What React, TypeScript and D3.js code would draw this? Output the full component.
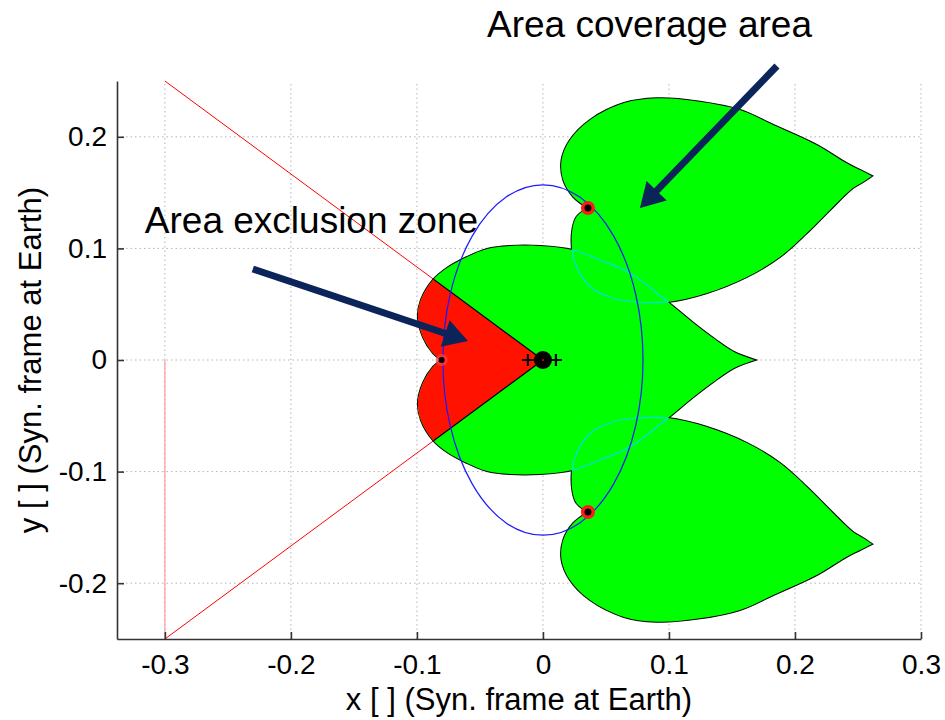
import React, { useEffect, useRef } from "react";
import * as d3 from "d3";

type Pt = [number, number];

// upper half of the central region, from the left notch to the right tip
const heartUpper: Pt[] = [
  [-0.0804, 0], [-0.0871, 0.006], [-0.0952, 0.0206], [-0.0992, 0.0385],
  [-0.0968, 0.0538], [-0.0873, 0.0717], [-0.0762, 0.0824], [-0.0603, 0.0923],
  [-0.0444, 0.0995], [-0.0262, 0.1022], [-0.0024, 0.1022], [0.0238, 0.0986],
  [0.0452, 0.0896], [0.069, 0.078], [0.0992, 0.052], [0.118, 0.0345],
  [0.136, 0.019], [0.152, 0.007], [0.1683, 0],
];

// upper coverage lobe: outer edge from the notch (red marker) to the tip
const leafTop: Pt[] = [
  [0.0357, 0.1362], [0.024, 0.1463], [0.0161, 0.1613], [0.0148, 0.1792],
  [0.0214, 0.1971], [0.0373, 0.2151], [0.0637, 0.23], [0.0902, 0.2345],
  [0.1246, 0.2315], [0.1563, 0.224], [0.1828, 0.2106], [0.2172, 0.1927],
  [0.241, 0.1763], [0.2516, 0.1703], [0.2611, 0.1649],
];
// ... and the inner edge from the tip back to the notch
const leafBottom: Pt[] = [
  [0.2611, 0.1649], [0.254, 0.1595], [0.246, 0.1541], [0.2278, 0.1344],
  [0.2095, 0.1138], [0.1881, 0.0923], [0.1619, 0.0744], [0.1302, 0.06],
  [0.0992, 0.052], [0.0717, 0.0522], [0.0558, 0.0553], [0.0373, 0.0657],
  [0.0267, 0.0836], [0.0233, 0.097], [0.0233, 0.1165], [0.0267, 0.1284],
  [0.0357, 0.1362],
];

const xTicks = [-0.3, -0.2, -0.1, 0, 0.1, 0.2, 0.3];
const yTicks = [-0.2, -0.1, 0, 0.1, 0.2];

const orbit = { cx: 0, cy: 0, rx: 0.0794, ry: 0.157 };
const coneLines: Pt[][] = [
  [[-0.3, 0.25], [0, 0]],
  [[-0.3, -0.25], [0, 0]],
];
const pinkLine: Pt[] = [[-0.3, 0], [-0.3, -0.25]];
const redMarkers: Pt[] = [[0.0357, 0.1362], [0.0357, -0.1362]];
const notchMarker: Pt = [-0.0804, 0];
const plusMarkers: Pt[] = [[-0.0119, 0], [0.0103, 0]];
const earth: Pt = [0, 0];

const labels = ["Area coverage area", "Area exclusion zone"];
const labelPos: Pt[] = [[-0.0444, 0.2894], [-0.3159, 0.1138]];
const arrowFrom: Pt[] = [[0.1857, 0.2634], [-0.2302, 0.0815]];
const arrowTo: Pt[] = [[0.077, 0.1362], [-0.0595, 0.017]];

const FONT = "'Liberation Sans', Arial, Helvetica, sans-serif";

export default function App() {
  const ref = useRef<SVGSVGElement>(null);

  useEffect(() => {
    const W = 945, H = 720;
    const margin = { top: 81, right: 24, bottom: 81, left: 117 };
    const x = d3.scaleLinear().domain([-0.338, 0.3]).range([margin.left, W - margin.right]);
    const y = d3.scaleLinear().domain([-0.25, 0.25]).range([H - margin.bottom, margin.top]);

    const svg = d3.select(ref.current);
    svg.selectAll("*").remove();
    const defs = svg.append("defs");

    const smooth = d3
      .line<Pt>()
      .x((d) => x(d[0]))
      .y((d) => y(d[1]))
      .curve(d3.curveCatmullRom.alpha(0.5));
    const straight = d3
      .line<Pt>()
      .x((d) => x(d[0]))
      .y((d) => y(d[1]));
    // join open smooth edges so the notch and tip stay sharp cusps
    const outline = (edges: Pt[][]) =>
      edges.map((e, i) => {
        const d = smooth(e) as string;
        return i === 0 ? d : "L" + d.slice(1);
      }).join("") + "Z";
    const flip = (pts: Pt[]) => pts.map(([a, b]) => [a, -b] as Pt);

    const heartD = outline([heartUpper, flip(heartUpper).reverse()]);
    const leafDs = [
      outline([leafTop, leafBottom]),
      outline([flip(leafTop), flip(leafBottom)]),
    ];

    defs.append("clipPath").attr("id", "wedge")
      .append("path")
      .attr("d", straight([coneLines[0][0], earth, coneLines[1][0]]) + "Z");
    defs.append("clipPath").attr("id", "heartClip").append("path").attr("d", heartD);
    const lc = defs.append("clipPath").attr("id", "leafClip");
    leafDs.forEach((d) => lc.append("path").attr("d", d));

    // grid
    const grid = svg.append("g")
      .attr("stroke", "#b4b4b4")
      .attr("stroke-dasharray", "1.5,3")
      .attr("stroke-width", 1);
    grid.selectAll(".gx").data(xTicks).join("line")
      .attr("x1", (d) => x(d)).attr("x2", (d) => x(d))
      .attr("y1", y(-0.25)).attr("y2", y(0.25));
    grid.selectAll(".gy").data(yTicks).join("line")
      .attr("class", "gy")
      .attr("x1", x(-0.338)).attr("x2", x(0.3))
      .attr("y1", (d) => y(d)).attr("y2", (d) => y(d));

    // exclusion cone lines
    svg.selectAll(".cone").data(coneLines).join("path")
      .attr("class", "cone")
      .attr("d", (d) => straight(d))
      .attr("stroke", "#ff0000").attr("stroke-width", 1).attr("fill", "none");
    svg.append("path").attr("d", straight(pinkLine))
      .attr("stroke", "#ff9a9a").attr("stroke-width", 1.2).attr("fill", "none");

    // regions: outline pass, then fill pass hides interior boundaries
    const allD = [heartD, ...leafDs];
    svg.selectAll(".outline").data(allD).join("path")
      .attr("class", "outline")
      .attr("d", (d) => d)
      .attr("fill", "#00ff00").attr("stroke", "#000").attr("stroke-width", 2)
      .attr("stroke-linejoin", "miter");
    svg.selectAll(".fillpass").data(allD).join("path")
      .attr("class", "fillpass")
      .attr("d", (d) => d)
      .attr("fill", "#00ff00").attr("stroke", "none");

    // exclusion sector
    svg.append("path").attr("d", heartD)
      .attr("fill", "#ff1200").attr("clip-path", "url(#wedge)");
    svg.selectAll(".edge").data(coneLines).join("path")
      .attr("class", "edge")
      .attr("d", (d) => straight(d))
      .attr("stroke", "#000").attr("stroke-width", 1.2).attr("fill", "none")
      .attr("clip-path", "url(#heartClip)");

    // hidden boundaries in cyan
    svg.append("path").attr("d", heartD)
      .attr("fill", "none").attr("stroke", "#00e0e8").attr("stroke-width", 1.2)
      .attr("clip-path", "url(#leafClip)");
    svg.selectAll(".leafcyan").data(leafDs).join("path")
      .attr("class", "leafcyan")
      .attr("d", (d) => d)
      .attr("fill", "none").attr("stroke", "#00e0e8").attr("stroke-width", 1.2)
      .attr("clip-path", "url(#heartClip)");

    // orbit
    svg.append("ellipse")
      .attr("cx", x(orbit.cx)).attr("cy", y(orbit.cy))
      .attr("rx", x(orbit.rx) - x(0)).attr("ry", y(0) - y(orbit.ry))
      .attr("fill", "none").attr("stroke", "#1a1aff").attr("stroke-width", 1.2);

    // markers
    svg.selectAll(".redm").data(redMarkers).join("circle")
      .attr("class", "redm")
      .attr("cx", (d) => x(d[0])).attr("cy", (d) => y(d[1]))
      .attr("r", 7).attr("fill", "#ff1a1a");
    svg.selectAll(".redc").data(redMarkers).join("circle")
      .attr("class", "redc")
      .attr("cx", (d) => x(d[0])).attr("cy", (d) => y(d[1]))
      .attr("r", 3.5).attr("fill", "#000");
    svg.append("circle").attr("cx", x(notchMarker[0])).attr("cy", y(notchMarker[1]))
      .attr("r", 6).attr("fill", "#ff4040").attr("opacity", 0.7);
    svg.append("circle").attr("cx", x(notchMarker[0])).attr("cy", y(notchMarker[1]))
      .attr("r", 3).attr("fill", "#000");
    svg.selectAll(".plus").data(plusMarkers).join("path")
      .attr("class", "plus")
      .attr("d", (d) => `M${x(d[0]) - 6},${y(d[1])}h12M${x(d[0])},${y(d[1]) - 6}v12`)
      .attr("stroke", "#000").attr("stroke-width", 2.2);
    svg.append("circle").attr("cx", x(earth[0])).attr("cy", y(earth[1]))
      .attr("r", 9).attr("fill", "#000");
    svg.append("circle").attr("cx", x(earth[0])).attr("cy", y(earth[1]))
      .attr("r", 1).attr("fill", "#ff0000");

    // axes
    const xAxis = svg.append("g")
      .attr("transform", `translate(0, ${y(-0.25)})`)
      .call(
        d3.axisBottom(x).tickValues(xTicks).tickSizeInner(-7).tickSizeOuter(0)
          .tickPadding(15).tickFormat((d) => String(d))
      );
    const yAxis = svg.append("g")
      .attr("transform", `translate(${x(-0.338)}, 0)`)
      .call(
        d3.axisLeft(y).tickValues(yTicks).tickSizeInner(-7).tickSizeOuter(0)
          .tickPadding(10).tickFormat((d) => String(d))
      );
    [xAxis, yAxis].forEach((g) => {
      g.attr("font-family", FONT).attr("font-size", 28);
      g.selectAll("path, line").attr("stroke", "#333").attr("stroke-width", 1.6);
      g.selectAll("text").attr("fill", "#000");
    });

    svg.append("text")
      .attr("x", (x(-0.338) + x(0.3)) / 2).attr("y", 710)
      .attr("text-anchor", "middle")
      .attr("font-family", FONT).attr("font-size", 31)
      .text("x [ ] (Syn. frame at Earth)");
    svg.append("text")
      .attr("transform", "rotate(-90)")
      .attr("x", -(y(-0.25) + y(0.25)) / 2).attr("y", 41)
      .attr("text-anchor", "middle")
      .attr("font-family", FONT).attr("font-size", 31)
      .text("y [ ] (Syn. frame at Earth)");

    // annotations
    svg.selectAll(".note").data(labels).join("text")
      .attr("class", "note")
      .attr("x", (_, i) => x(labelPos[i][0])).attr("y", (_, i) => y(labelPos[i][1]))
      .attr("font-family", FONT).attr("font-size", 37)
      .text((d) => d);

    const navy = "#0b255a";
    arrowFrom.forEach((f, i) => {
      const x0 = x(f[0]), y0 = y(f[1]);
      const x1 = x(arrowTo[i][0]), y1 = y(arrowTo[i][1]);
      const len = Math.hypot(x1 - x0, y1 - y0);
      const ux = (x1 - x0) / len, uy = (y1 - y0) / len;
      const head = 24, half = 14;
      const bx = x1 - ux * head, by = y1 - uy * head;
      svg.append("line")
        .attr("x1", x0).attr("y1", y0).attr("x2", bx + ux * 2).attr("y2", by + uy * 2)
        .attr("stroke", navy).attr("stroke-width", 7);
      svg.append("path")
        .attr("d", `M${x1},${y1}L${bx - uy * half},${by + ux * half}L${bx + uy * half},${by - ux * half}Z`)
        .attr("fill", navy);
    });
  }, []);

  return (
    <svg
      ref={ref}
      width={945}
      height={720}
      style={{ position: "absolute", left: 0, top: 0, background: "#fff" }}
    />
  );
}
